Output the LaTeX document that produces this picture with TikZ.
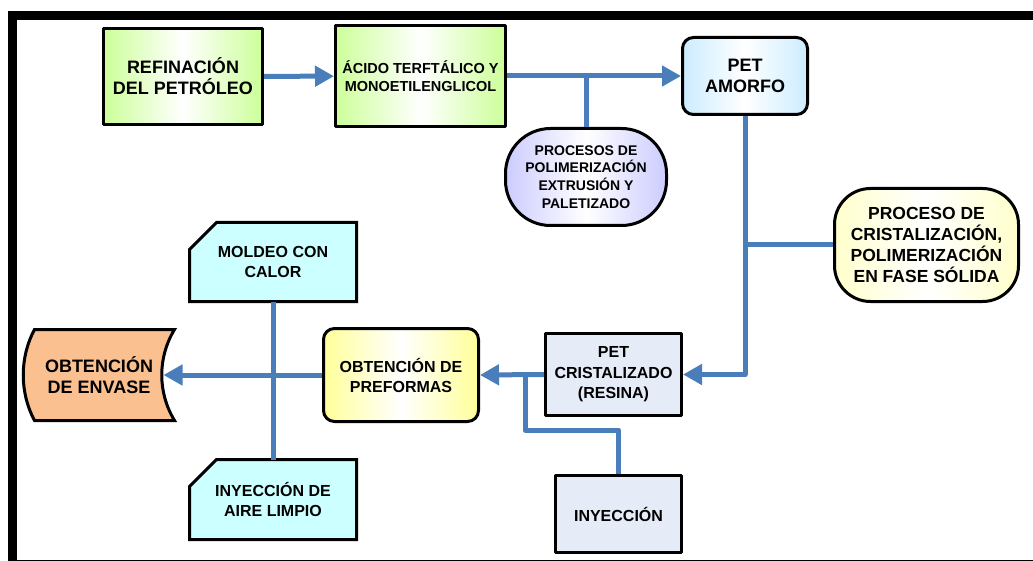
\documentclass[tikz,border=0pt]{standalone}
\usepackage{fontspec}
\setmainfont{Liberation Sans}
\usepackage{tikz}
\usetikzlibrary{arrows.meta,backgrounds}
\usepackage{xcolor}
\definecolor{flowblue}{RGB}{74,126,187}
\definecolor{limegreen}{RGB}{204,255,153}
\definecolor{iceblue}{RGB}{204,236,255}
\definecolor{lavender}{RGB}{204,204,255}
\definecolor{cream}{RGB}{255,255,204}
\definecolor{lemon}{RGB}{255,255,153}
\definecolor{steelpale}{RGB}{230,236,247}
\definecolor{paleaqua}{RGB}{204,255,255}
\definecolor{peach}{RGB}{250,192,144}

\begin{document}
\begin{tikzpicture}[x=1pt,y=-1pt,>={Triangle[length=19pt,width=20pt]},line join=round,
  box/.style={draw=black,line width=3pt,align=center,inner sep=2pt},
  txt/.style 2 args={font=\bfseries\fontsize{#1}{#2}\selectfont},
  grad/.style={left color=#1,right color=#1,middle color=white},
  roundbox/.style={box,rounded corners=11pt},
  pill/.style={box,rounded corners=#1},
  plainbox/.style={align=center,inner sep=0pt,outer sep=0pt},
  outline/.style={draw=black,line width=3pt,fill=#1},
  flow/.style={flowblue,line width=5pt}]
\useasboundingbox (0,0) rectangle (1033,561);
% frame
\draw[line width=9pt] (8,15.5) -- (1033,15.5);
\draw[line width=9pt] (12.5,11) -- (12.5,561);
\draw[line width=1pt] (17,560) -- (1033,560);

% upper row
\node[box,grad=limegreen,minimum width=159pt,minimum height=96pt,txt={18}{21}] (refin) at (183,76.5) {REFINACIÓN\\DEL PETRÓLEO};
\node[box,grad=limegreen,minimum width=170pt,minimum height=101pt,txt={14.5}{17.5}] (acido) at (420.5,76) {ÁCIDO TERFTÁLICO Y\\MONOETILENGLICOL};
\node[roundbox,grad=iceblue,minimum width=125pt,minimum height=77pt,txt={18}{21.5}] (amorfo) at (745,76) {PET\\AMORFO};
\node[pill=45pt,grad=lavender,minimum width=161pt,minimum height=97pt,txt={14}{17.7}] (procesos) at (586,177) {PROCESOS DE\\POLIMERIZACIÓN\\EXTRUSIÓN Y\\PALETIZADO};
\node[pill=36pt,grad=cream,minimum width=184pt,minimum height=113pt,txt={17.5}{21.3}] (cristal) at (926.5,245) {PROCESO DE\\CRISTALIZACIÓN,\\POLIMERIZACIÓN\\EN FASE SÓLIDA};

% lower row
\node[box,fill=steelpale,minimum width=136pt,minimum height=82pt,txt={16}{20.5}] (petcris) at (613.5,374.5) {PET\\CRISTALIZADO\\(RESINA)};
\node[box,fill=steelpale,minimum width=126pt,minimum height=77pt,txt={16}{20}] (inyeccion) at (618.5,514) {INYECCIÓN};
\node[roundbox,grad=lemon,minimum width=155pt,minimum height=93pt,txt={16}{20}] (preformas) at (401,375) {OBTENCIÓN DE\\PREFORMAS};
\node[plainbox,minimum width=167pt,minimum height=79pt,txt={16}{19.5}] (moldeo) at (273,262) {MOLDEO CON\\CALOR};
\node[plainbox,minimum width=167pt,minimum height=80pt,txt={16}{20}] (aire) at (273,499.5) {INYECCIÓN DE\\AIRE LIMPIO};
\node[plainbox,minimum width=151pt,minimum height=91pt,txt={18}{21}] (envase) at (99,375) {OBTENCIÓN\\DE ENVASE};

\begin{pgfonlayer}{background}
\draw[outline=paleaqua] ([yshift=-27pt]moldeo.north west) -- ([xshift=27pt]moldeo.north west)
  -- (moldeo.north east) -- (moldeo.south east) -- (moldeo.south west) -- cycle;
\draw[outline=paleaqua] ([yshift=-27pt]aire.north west) -- ([xshift=27pt]aire.north west)
  -- (aire.north east) -- (aire.south east) -- (aire.south west) -- cycle;
\draw[outline=peach] ([xshift=11pt]envase.north west) -- (envase.north east)
  .. controls ([xshift=-17pt,yshift=-28pt]envase.north east) and ([xshift=-17pt,yshift=28pt]envase.south east) .. (envase.south east)
  -- ([xshift=11pt]envase.south west)
  .. controls ([xshift=-4pt,yshift=28pt]envase.south west) and ([xshift=-4pt,yshift=-28pt]envase.north west) .. cycle;
\end{pgfonlayer}

% connectors
\draw[flow,->] (refin) -- (acido);
\draw[flow,->] (acido) -- (amorfo);
\draw[flow] (procesos.north) -- (procesos.north |- acido.east);
\draw[flow,->] (amorfo.south) |- (petcris.east);
\draw[flow] (cristal.west) -- (cristal.west -| amorfo.south);
\draw[flow,->] (petcris.west) -- (preformas.east);
\coordinate (inyjoin) at (525,375);
\draw[flow] (inyeccion.north) -- ++(0,-44) -| (inyjoin);
\draw[flow,->,shorten >=-11pt] (preformas.west) -- (envase.east);
\draw[flow] (moldeo.south) -- (aire.north);
\end{tikzpicture}
\end{document}
